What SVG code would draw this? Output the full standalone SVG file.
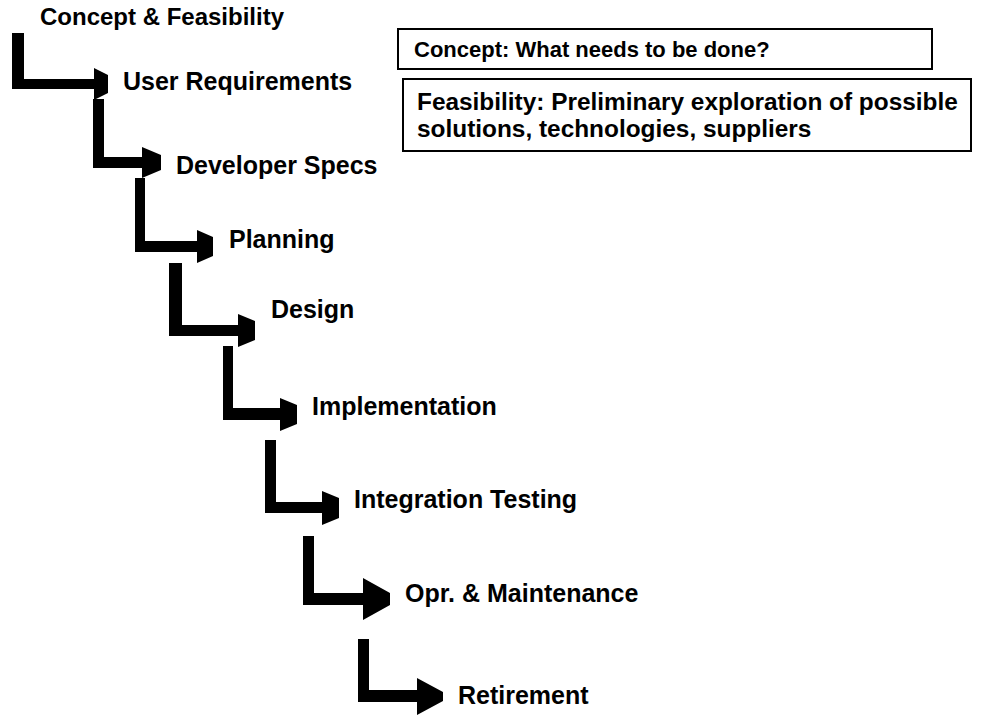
<svg xmlns="http://www.w3.org/2000/svg" width="987" height="726" viewBox="0 0 987 726">
<style>
.lbl{font-family:"Liberation Sans",Arial,sans-serif;font-weight:bold;font-size:25px;fill:#000}
.box{fill:#fff;stroke:#000;stroke-width:2}
.arr{fill:#000;stroke:none}
</style>
<rect width="987" height="726" fill="#fff"/>
<g id="connectors">
<polygon class="arr" points="12,33 24,33 24,79 94,79 94,68 108,75 108,93 94,100 94,89 12,89"/>
<polygon class="arr" points="93,99 104,99 104,157 142,157 142,147 161,155 161,170 142,178 142,168 93,168"/>
<polygon class="arr" points="135,178 145,178 145,241 197,241 197,230 213,237 213,256 197,263 197,252 135,252"/>
<polygon class="arr" points="169,263 182,263 182,325 238,325 238,314 255,321 255,340 238,347 238,336 169,336"/>
<polygon class="arr" points="223,346 233,346 233,408 280,408 280,398 297,405 297,424 280,431 280,420 223,420"/>
<polygon class="arr" points="265,440 276,440 276,502 322,502 322,491 339,498 339,518 322,525 322,513 265,513"/>
<polygon class="arr" points="303,536 314,536 314,593 363,593 363,578 390,593 390,605 363,620 363,605 303,605"/>
<polygon class="arr" points="358,639 369,639 369,690 417,690 417,678 443,692 443,701 417,715 417,702 358,702"/>
</g>
<g id="concept-feasibility"><text class="lbl" x="40" y="25" style="font-size:24px">Concept &amp; Feasibility</text></g>
<g id="user-requirements"><text class="lbl" x="123" y="90">User Requirements</text></g>
<g id="developer-specs"><text class="lbl" x="176" y="174">Developer Specs</text></g>
<g id="planning"><text class="lbl" x="229" y="248">Planning</text></g>
<g id="design"><text class="lbl" x="271" y="318">Design</text></g>
<g id="implementation"><text class="lbl" x="312" y="415">Implementation</text></g>
<g id="integration-testing"><text class="lbl" x="354" y="508">Integration Testing</text></g>
<g id="opr-maintenance"><text class="lbl" x="405" y="602">Opr. &amp; Maintenance</text></g>
<g id="retirement"><text class="lbl" x="458" y="704">Retirement</text></g>
<g id="concept-note">
<rect class="box" x="398" y="29" width="534" height="40"/>
<text class="lbl" x="414" y="57" style="font-size:22px">Concept: What needs to be done?</text>
</g>
<g id="feasibility-note">
<rect class="box" x="403" y="79" width="568" height="72"/>
<text class="lbl" x="417" y="110" style="font-size:24.4px">Feasibility: Preliminary exploration of possible</text>
<text class="lbl" x="417" y="137" style="font-size:24.4px">solutions, technologies, suppliers</text>
</g>
</svg>
